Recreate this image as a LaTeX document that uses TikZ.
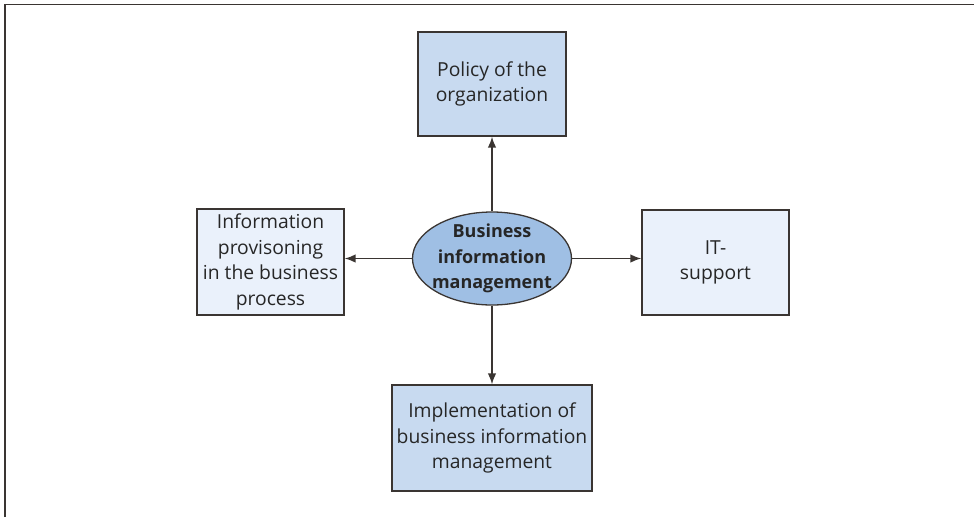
\documentclass[tikz,border=0pt]{standalone}
\usepackage{fontspec}
\setmainfont{Open Sans}
\usetikzlibrary{shapes.geometric,arrows.meta}
\definecolor{linec}{HTML}{3A3532}
\definecolor{darkfill}{HTML}{C8DAF0}
\definecolor{lightfill}{HTML}{EAF1FB}
\definecolor{ellfill}{HTML}{9FBFE4}
\begin{document}
\begin{tikzpicture}[x=1pt,y=-1pt,
  box/.style={draw=linec,line width=1.3pt,align=center,inner sep=0pt,font=\fontsize{19.3}{25.5}\selectfont,text=black!85},
  arr/.style={draw=linec,line width=1.5pt,-{Latex[length=11pt,width=8.5pt]}}]
\useasboundingbox (0,0) rectangle (974,517);
\draw[linec,line width=1.5pt] (5,517) -- (5,4.5) -- (974,4.5);
\node[box,fill=darkfill,minimum width=148pt,minimum height=104pt] (pol) at (492,84) {Policy of the\\organization};
\node[box,fill=lightfill,minimum width=147pt,minimum height=106pt] (inf) at (270.5,262) {Information\\provisoning\\in the business\\process};
\node[box,fill=lightfill,minimum width=147pt,minimum height=105pt] (it) at (715.5,262.5) {IT-\\support};
\node[box,fill=darkfill,minimum width=200pt,minimum height=106pt] (imp) at (492,438) {Implementation of\\business information\\management};
\node[box,ellipse,fill=ellfill,inner xsep=-12pt,inner ysep=-12pt,minimum width=159pt,minimum height=93pt,font=\bfseries\fontsize{18}{25.5}\selectfont] (bim) at (492,258.5) {Business\\information\\management};
\draw[arr] (bim.north) -- (pol.south);
\draw[arr] (bim.west) -- (bim.west -| inf.east);
\draw[arr] (bim.east) -- (bim.east -| it.west);
\draw[arr] (bim.south) -- (imp.north);
\end{tikzpicture}
\end{document}
